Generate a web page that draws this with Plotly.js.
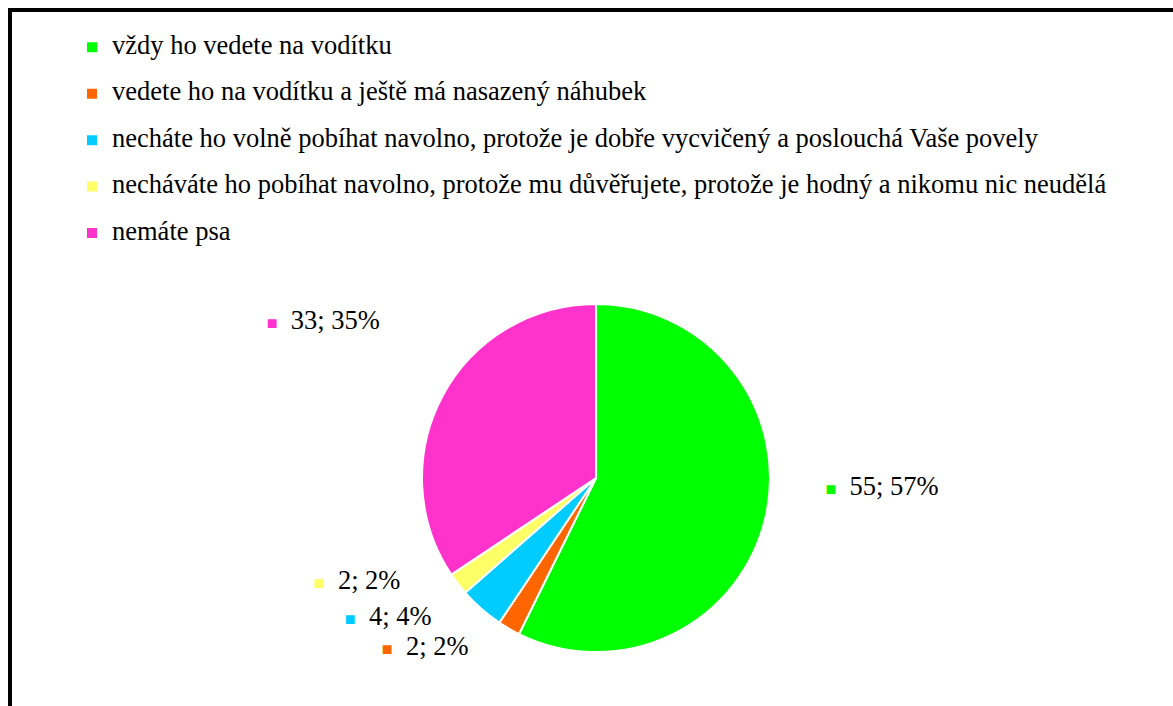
<!DOCTYPE html>
<html>
<head>
<meta charset="utf-8">
<script src="https://cdn.plot.ly/plotly-3.0.1.min.js"></script>
<style>
  html, body { margin: 0; padding: 0; background: #fff; }
  #wrap { position: relative; width: 1173px; height: 706px; overflow: hidden; }
  #chart { width: 1173px; height: 706px; }
  #frame { position: absolute; left: 8px; top: 8px; width: 1200px; height: 760px;
           border-top: 4px solid #000; border-left: 4px solid #000; pointer-events: none; }
</style>
</head>
<body>
<div id="wrap">
  <div id="chart"></div>
  <div id="frame"></div>
</div>
<script>
// Data
const categories = [
  "vždy ho vedete na vodítku",
  "vedete ho na vodítku a ještě má nasazený náhubek",
  "necháte ho volně pobíhat navolno, protože je dobře vycvičený a poslouchá Vaše povely",
  "necháváte ho pobíhat navolno, protože mu důvěřujete, protože je hodný a nikomu nic neudělá",
  "nemáte psa"
];
const counts = [55, 2, 4, 2, 33];
const percentLabels = [57, 2, 4, 2, 35];
const colors = ["#00FF00", "#FF6600", "#00CCFF", "#FFFF66", "#FF33CC"];

const SERIF = 'Liberation Serif';
const W = 1173, H = 706;
const cx = 596, cy = 478, r = 174;
function dom(x0, y0, rad) {
  return {
    x: [(x0 - rad) / W, (x0 + rad) / W],
    y: [1 - (y0 + rad) / H, 1 - (y0 - rad) / H]
  };
}

const legendLabels = categories.map(c => '<span style="font-size:26.5px">' + c + '</span><br> ');
const labelTexts = counts.map((v, i) =>
  '<span style="color:' + colors[i] + ';font-size:18px">■</span>' +
  '<span style="color:#000000">  ' + v + '; ' + percentLabels[i] + '%</span>');

const mainPie = {
  type: 'pie',
  labels: legendLabels,
  values: counts,
  sort: false,
  direction: 'clockwise',
  rotation: 0,
  marker: { colors: colors, line: { color: '#ffffff', width: 2 } },
  textinfo: 'none',
  hoverinfo: 'label+value+percent',
  domain: dom(cx, cy, r),
  showlegend: true
};

const labelPie = {
  type: 'pie',
  labels: categories,
  values: counts,
  sort: false,
  direction: 'clockwise',
  rotation: 0,
  marker: { colors: colors.map(() => 'rgba(0,0,0,0)'), line: { width: 0 } },
  text: labelTexts,
  textinfo: 'text',
  textposition: 'outside',
  outsidetextfont: { family: SERIF, size: 26.5, color: '#ffffff' },
  hoverinfo: 'skip',
  domain: dom(cx - 4, cy - 45, 232),
  showlegend: false
};

const layout = {
  width: W, height: H,
  margin: { l: 0, r: 0, t: 0, b: 0 },
  paper_bgcolor: '#ffffff',
  font: { family: SERIF },
  showlegend: true,
  legend: {
    x: 72 / W, xanchor: 'left',
    y: 1 - 30 / H, yanchor: 'top',
    valign: 'top',
    font: { family: SERIF, size: 16.7, color: '#000' },
    bgcolor: 'rgba(0,0,0,0)'
  }
};

Plotly.newPlot('chart', [mainPie, labelPie], layout, { displayModeBar: false, staticPlot: true });
</script>
</body>
</html>
